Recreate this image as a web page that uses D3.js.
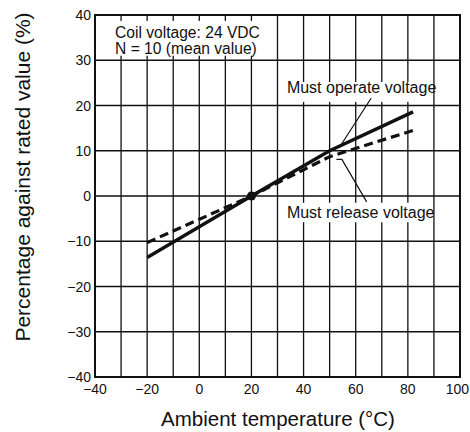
<!DOCTYPE html>
<html>
<head>
<meta charset="utf-8">
<script src="https://cdn.jsdelivr.net/npm/d3@7"></script>
<style>
  html, body { margin: 0; padding: 0; background: #fff; }
  svg { display: block; }
  text { font-family: "Liberation Sans", Arial, sans-serif; fill: #111; }
</style>
</head>
<body>
<svg id="chart" width="470" height="432"></svg>
<script>
// ---- data ----
const xTicks = [-40, -20, 0, 20, 40, 60, 80, 100];
const yTicks = [-40, -30, -20, -10, 0, 10, 20, 30, 40];
const operateTemp = [-20, 20, 50, 82];
const operateValue = [-13.6, 0, 10, 18.6];
const releaseTemp = [-20, 20, 50, 82];
const releaseValue = [-10.3, 0, 8.7, 14.5];
const refPoint = [20, 0];
const xTitle = "Ambient temperature (\u00B0C)";
const yTitle = "Percentage against rated value (%)";
const noteLines = ["Coil voltage: 24 VDC", "N = 10 (mean value)"];
const operateLabel = "Must operate voltage";
const releaseLabel = "Must release voltage";

// ---- layout ----
const svg = d3.select("#chart");
const x = d3.scaleLinear().domain([-40, 100]).range([95, 460]);
const y = d3.scaleLinear().domain([-40, 40]).range([377, 15]);
const fmt = v => (v < 0 ? "\u2212" + Math.abs(v) : String(v));

// grid
const grid = svg.append("g").attr("stroke", "#111").attr("stroke-width", 1.3);
grid.selectAll("line.v").data(d3.range(-30, 100, 10)).join("line")
  .attr("x1", d => x(d)).attr("x2", d => x(d))
  .attr("y1", y(40)).attr("y2", y(-40));
grid.selectAll("line.h").data(d3.range(-30, 40, 10)).join("line")
  .attr("y1", d => y(d)).attr("y2", d => y(d))
  .attr("x1", x(-40)).attr("x2", x(100));

// white label backgrounds (cover grid)
svg.append("rect").attr("x", x(-38.2)).attr("y", y(38.7))
  .attr("width", x(27.2) - x(-38.2)).attr("height", y(31) - y(38.7))
  .attr("fill", "#fff");
svg.append("rect").attr("x", x(33)).attr("y", y(25.2))
  .attr("width", x(88.7) - x(33)).attr("height", y(20.8) - y(25.2))
  .attr("fill", "#fff");
svg.append("rect").attr("x", x(33)).attr("y", y(-1.5))
  .attr("width", x(88.7) - x(33)).attr("height", y(-5.8) - y(-1.5))
  .attr("fill", "#fff");

// frame
svg.append("rect").attr("x", x(-40)).attr("y", y(40))
  .attr("width", x(100) - x(-40)).attr("height", y(-40) - y(40))
  .attr("fill", "none").attr("stroke", "#111").attr("stroke-width", 2);

// axes tick labels
svg.append("g").selectAll("text").data(yTicks).join("text")
  .attr("x", x(-40) - 4).attr("y", d => y(d)).attr("dy", "0.36em")
  .attr("text-anchor", "end").attr("font-size", 14).text(fmt);
svg.append("g").selectAll("text").data(xTicks).join("text")
  .attr("x", (d, i) => i === xTicks.length - 1 ? 469 : x(d)).attr("y", y(-40) + 17)
  .attr("text-anchor", (d, i) => i === xTicks.length - 1 ? "end" : "middle")
  .attr("font-size", 14).text(fmt);

// titles
svg.append("text").attr("x", 278).attr("y", 426)
  .attr("text-anchor", "middle").attr("font-size", 20.5).text(xTitle);
svg.append("text").attr("transform", "translate(30," + 177 + ") rotate(-90)")
  .attr("text-anchor", "middle").attr("font-size", 21).text(yTitle);

// note
svg.append("g").selectAll("text").data(noteLines).join("text")
  .attr("x", x(-32.3)).attr("y", (d, i) => 37.7 + i * 16)
  .attr("font-size", 15.6).text(d => d);

// lines
const line = d3.line().x(d => x(d[0])).y(d => y(d[1]));
svg.append("path").datum(operateTemp.map((t, i) => [t, operateValue[i]]))
  .attr("d", line).attr("fill", "none").attr("stroke", "#111")
  .attr("stroke-width", 3.4);
svg.append("path").datum(releaseTemp.map((t, i) => [t, releaseValue[i]]))
  .attr("d", line).attr("fill", "none").attr("stroke", "#111")
  .attr("stroke-width", 3.2).attr("stroke-dasharray", "9,5");
svg.append("circle").attr("cx", x(refPoint[0])).attr("cy", y(refPoint[1]))
  .attr("r", 4.5).attr("fill", "#111");

// annotations
svg.append("text").attr("x", x(33.6)).attr("y", y(22.8))
  .attr("font-size", 16).text(operateLabel);
svg.append("text").attr("x", x(33.6)).attr("y", y(-4.9))
  .attr("font-size", 16).text(releaseLabel);
const lead = svg.append("g").attr("stroke", "#111").attr("stroke-width", 1.2).attr("fill", "none");
lead.append("path").attr("d", line([[65.9, 21.6], [53.6, 10.6]]));
lead.append("path").attr("d", line([[52.6, 8.1], [54.7, 8.1], [64.2, -1.3]]));
</script>
</body>
</html>
